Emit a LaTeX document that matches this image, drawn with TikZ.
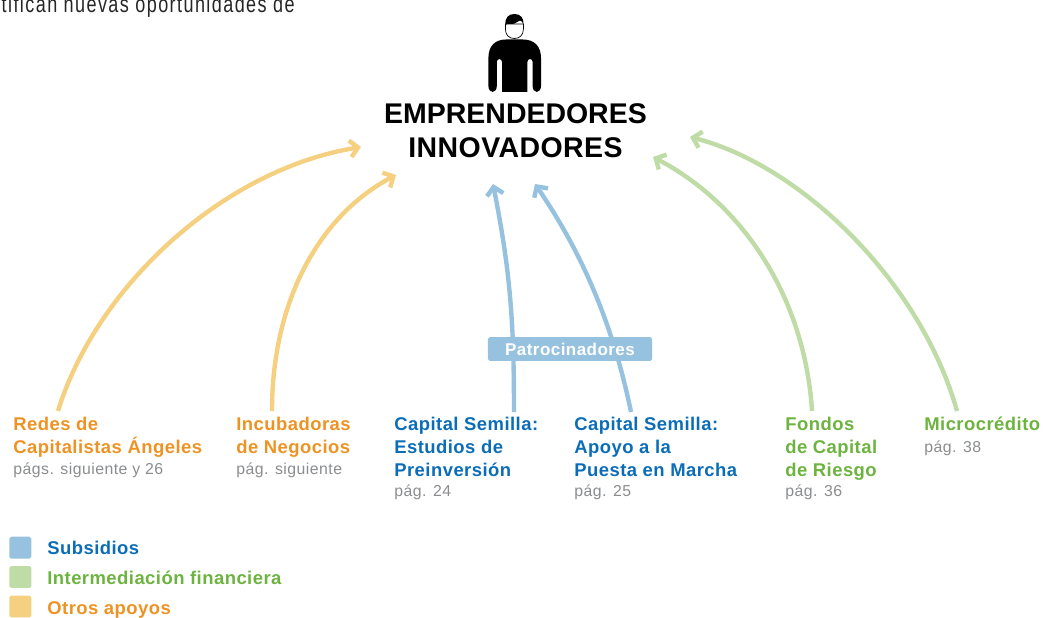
\documentclass[tikz,border=0pt]{standalone}
\usepackage{fontspec}
\usetikzlibrary{arrows.meta}
\setmainfont{Liberation Sans}
\newfontfamily\rotulofont[LetterSpace=2.5]{Liberation Sans}
\newfontfamily\paginafont[LetterSpace=3]{Liberation Sans}
\newfontfamily\parrafofont[FakeStretch=0.76,LetterSpace=6]{Liberation Sans}
\definecolor{azul}{HTML}{0B6DB7}
\definecolor{verde}{HTML}{6DB33F}
\definecolor{naranja}{HTML}{EE9323}
\definecolor{gris}{HTML}{8A8C8E}
\definecolor{azulclaro}{HTML}{96C2DF}
\definecolor{verdeclaro}{HTML}{BFDBA6}
\definecolor{naranjaclaro}{HTML}{F4D080}
\tikzset{
	flecha/.style={line width=2.5pt, -{Straight Barb[length=4.5pt, width=9.5pt, line width=2.5pt]}},
	rotulo/.style={anchor=north west, inner sep=0pt, align=left, font=\rotulofont\bfseries\fontsize{10.5}{12.9}\selectfont},
	pagina/.style={anchor=base west, inner sep=0pt, text=gris, font=\paginafont\fontsize{9}{10}\selectfont},
	leyenda/.style={anchor=base west, inner sep=0pt, font=\rotulofont\bfseries\fontsize{10.5}{12}\selectfont},
	cuadro/.style={rounded corners=1pt, minimum size=12.5pt, inner sep=0pt}
}
\begin{document}
\begin{tikzpicture}[x=0.02cm, y=-0.02cm]
	\useasboundingbox (0,0) rectangle (1044,618);
	\node [anchor=base east, inner sep=0pt, text=black!85, font=\parrafofont\fontsize{13.5}{15}\selectfont] (parrafo) at (295,12.5) {tifican nuevas oportunidades de};

	\fill (502,92) -- (502,62) arc [start angle=0, end angle=-180, x radius=2.6, y radius=3] -- (496.8,86) arc [start angle=0, end angle=180, x radius=4.2, y radius=6] -- (488.4,58) .. controls (488.4,46) and (495,39.5) .. (506,39.5) -- (523,39.5) .. controls (534,39.5) and (541,46) .. (541,58) -- (541,86) arc [start angle=0, end angle=180, x radius=4.2, y radius=6] -- (532.6,62) arc [start angle=0, end angle=-180, x radius=2.6, y radius=3] -- (527.4,92) -- cycle;
	\draw [line width=0.4pt, fill=white] (505.4,24) -- (505.4,29) .. controls (505.4,35) and (509,38.5) .. (514.4,38.5) .. controls (519.8,38.5) and (523.4,35) .. (523.4,29) -- (523.4,24) -- cycle;
	\fill (505.2,25) .. controls (505,18) and (508,14) .. (514.4,14) .. controls (520.8,14) and (523.8,18) .. (523.6,25) .. controls (522.5,22) and (521.5,20.5) .. (520,20.5) .. controls (517,21) and (516,24) .. (512,24) .. controls (509,24) and (507,23) .. (505.2,25) -- cycle;

	\node [align=center, inner sep=0pt, font=\bfseries\fontsize{16.2}{19.4}\selectfont] (emprendedores) at (515.5,131) {EMPRENDEDORES\\{\addfontfeature{LetterSpace=1.6}INNOVADORES}};

	\node [rotulo, text=naranja] (redes) at (13,417) {Redes de\\Capitalistas Ángeles};
	\node [pagina] (redespag) at (13,474) {págs. siguiente y 26};
	\node [rotulo, text=naranja] (incubadoras) at (236,417) {Incubadoras\\de Negocios};
	\node [pagina] (incubadoraspag) at (236,474) {pág. siguiente};
	\node [rotulo, text=azul] (estudios) at (394,417) {Capital Semilla:\\Estudios de\\Preinversión};
	\node [pagina] (estudiospag) at (394,496) {pág. 24};
	\node [rotulo, text=azul] (apoyo) at (574,417) {Capital Semilla:\\Apoyo a la\\Puesta en Marcha};
	\node [pagina] (apoyopag) at (574,496) {pág. 25};
	\node [rotulo, text=verde] (fondos) at (785,417) {Fondos\\de Capital\\de Riesgo};
	\node [pagina] (fondospag) at (785,496) {pág. 36};
	\node [rotulo, text=verde] (micro) at (924,417) {Microcrédito};
	\node [pagina] (micropag) at (924,452) {pág. 38};

	\coordinate (redespie) at (58,411);
	\coordinate (redesfin) at (361,147);
	\coordinate (incubadoraspie) at (272,411);
	\coordinate (incubadorasfin) at (396,175);
	\coordinate (estudiospie) at (514,412);
	\coordinate (estudiosfin) at (493,184);
	\coordinate (apoyopie) at (631,412);
	\coordinate (apoyofin) at (535,184);
	\coordinate (fondospie) at (812,411);
	\coordinate (fondosfin) at (653,157);
	\coordinate (micropie) at (957,411);
	\coordinate (microfin) at (690,137);

	\draw [flecha, naranjaclaro] (redespie) .. controls (95,290) and (220,170) .. (redesfin);
	\draw [flecha, naranjaclaro] (incubadoraspie) .. controls (272,300) and (320,215) .. (incubadorasfin);
	\draw [flecha, azulclaro] (estudiospie) .. controls (514,320) and (510,270) .. (estudiosfin);
	\draw [flecha, azulclaro] (apoyopie) .. controls (612,320) and (580,250) .. (apoyofin);
	\draw [flecha, verdeclaro] (fondospie) .. controls (805,300) and (745,205) .. (fondosfin);
	\draw [flecha, verdeclaro] (micropie) .. controls (920,280) and (800,165) .. (microfin);

	\node [fill=azulclaro, rounded corners=1pt, text=white, inner sep=0pt, minimum width=93.4pt, minimum height=13.6pt, font=\rotulofont\bfseries\fontsize{9.7}{12}\selectfont] (patrocinadores) at (570,349) {Patrocinadores};

	\node [cuadro, fill=azulclaro] (subsidioscuadro) at (20.3,547.7) {};
	\node [leyenda, text=azul] (subsidios) at (47,554) {Subsidios};
	\node [cuadro, fill=verdeclaro] (intermediacioncuadro) at (20.3,577) {};
	\node [leyenda, text=verde] (intermediacion) at (47,584) {Intermediación financiera};
	\node [cuadro, fill=naranjaclaro] (otroscuadro) at (20.3,606.5) {};
	\node [leyenda, text=naranja] (otros) at (47,614) {Otros apoyos};
\end{tikzpicture}
\end{document}
